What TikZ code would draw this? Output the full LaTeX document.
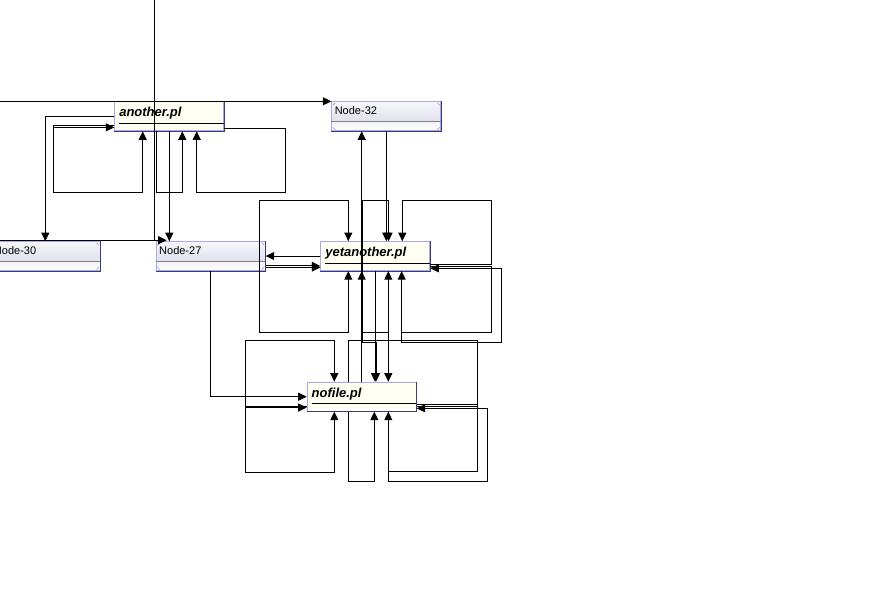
\documentclass[tikz,border=0pt]{standalone}
\usepackage{fontspec}
\setsansfont{Liberation Sans}
\usetikzlibrary{arrows.meta}
\definecolor{fileback}{HTML}{FEFEF2}
\definecolor{lightb}{HTML}{A8A8EC}
\definecolor{darkb}{HTML}{3C3C7C}
\definecolor{gtop}{HTML}{F6F6FA}
\definecolor{gmid}{HTML}{D6D6E8}
\definecolor{gbot}{HTML}{F2F2F8}
\tikzset{
  filenode/.style={rectangle, draw=lightb, fill=fileback, line width=1pt,
    minimum width=109pt, minimum height=29pt, anchor=north west,
    inner xsep=4.5pt, inner ysep=0pt, text width=100pt, align=left,
    text height=15pt, text depth=14pt,
    font=\sffamily\bfseries\itshape\fontsize{13pt}{15pt}\selectfont},
  gradnode/.style={rectangle, draw=lightb, line width=1pt,
    minimum width=109pt, minimum height=29pt, anchor=north west,
    inner xsep=3pt, inner ysep=0pt, text width=103pt, align=left,
    text height=13pt, text depth=16pt,
    font=\sffamily\fontsize{11pt}{13pt}\selectfont,
    path picture={
      \shade[top color=gtop, bottom color=gmid]
        (path picture bounding box.north west) rectangle
        ([yshift=-20.4pt]path picture bounding box.north east);
      \shade[top color=gbot, bottom color=white]
        ([yshift=-20.4pt]path picture bounding box.north west) rectangle
        (path picture bounding box.south east);
    }},
  conn/.style={draw=black, line width=1pt},
  arr/.style={conn, -{Triangle[length=8.5pt,width=8pt]}},
  arrb/.style={conn, {Triangle[length=8.5pt,width=8pt]}-{Triangle[length=8.5pt,width=8pt]}},
}
\newcommand\filedeco[1]{%
  \draw[black, line width=1pt] ([xshift=5pt,yshift=-22pt]#1.north west) -- ([yshift=-22pt]#1.north east);
  \draw[darkb, line width=1pt] (#1.south west) -- (#1.south east) -- (#1.north east);}
\newcommand\graddeco[1]{%
  \draw[gray, line width=1pt] ([yshift=-20.4pt]#1.north west) -- ([yshift=-20.4pt]#1.north east);
  \draw[darkb, line width=1pt] (#1.south west) -- (#1.south east) -- (#1.north east);
  \draw[gray!70, line width=0.6pt]
    ([xshift=1.5pt,yshift=-4pt]#1.north west) -- ([xshift=4pt,yshift=-1.5pt]#1.north west)
    ([xshift=-1.5pt,yshift=-4pt]#1.north east) -- ([xshift=-4pt,yshift=-1.5pt]#1.north east)
    ([xshift=1.5pt,yshift=4pt]#1.south west) -- ([xshift=4pt,yshift=1.5pt]#1.south west)
    ([xshift=-1.5pt,yshift=4pt]#1.south east) -- ([xshift=-4pt,yshift=1.5pt]#1.south east);}
\begin{document}
\begin{tikzpicture}[x=1pt, y=-1pt]
\useasboundingbox (0,0) rectangle (886,598);
\fill[white] (0,0) rectangle (886,598);
\clip (0,0) rectangle (886,598);

% nodes
\node[filenode] (another) at (114.3,101.3) {another.pl};
\node[gradnode] (n32) at (331.3,101.3) {Node-32};
\node[gradnode] (n30) at (-9.5,241.2) {Node-30};
\node[gradnode] (n27) at (155.7,241.2) {Node-27};
\node[filenode] (yet) at (320.3,241.2) {yetanother.pl};
\node[filenode] (nof) at (306.7,381.7) {nofile.pl};
\filedeco{another}
\filedeco{yet}
\filedeco{nof}
\graddeco{n32}
\graddeco{n30}
\graddeco{n27}

% connectors at the top
\draw[arr] (0,0 |- n32.north west) -- (n32.north west);
\draw[conn] (0,240) -- (154.3,240);
\draw[arr] (154.3,0) |- ([xshift=11pt,yshift=1pt]n27.north west);

% another.pl
\draw[arr] (another.west) -| (n30.north -| 45.3,0);
\draw[arr] (another.west |- 0,125.3) -- (53.3,125.3) -- (53.3,192) -| (another.south -| 142.7,0);
\draw[arr] (53.3,127.3) -- (another.west |- 0,127.3);
\draw[arr] (another.south -| 156.7,0) -- (156.7,192) -| (another.south -| 182.3,0);
\draw[arr] (another.south -| 169.3,0) -- (n27.north -| 169.3,0);
\draw[arr] (another.east |- 0,128.3) -- (285.3,128.3) -- (285.3,192) -| (another.south -| 196.7,0);

% Node-27
\draw[arr] (n27.south -| 210,0) |- (nof.west |- 0,396.7);
\draw[arr] (yet.west |- 0,256) -- (n27.east |- 0,256);
\draw[arr] (n27.east |- 0,265.9) -- (yet.west |- 0,265.9);
\draw[arr] (n27.east |- 0,267.5) -- (yet.west |- 0,267.5);

% Node-32
\draw[arr] (n32.south -| 386.3,0) -- (yet.north -| 386.3,0);
\draw[arr] (nof.north -| 361.7,0) -- (n32.south -| 361.7,0);

% yetanother.pl
\draw[arrb] (yet.south -| 348.3,0) -- (348.3,332.2) -- (259.3,332.2) -- (259.3,200.3) -| (yet.north -| 348.3,0);
\draw[arrb] (nof.north -| 376,0) -- (376,342.3) -- (362.9,342.3) -- (362.9,200.3) -| (yet.north -| 388.5,0);
\draw[arr] (yet.south -| 375,0) -- (nof.north -| 375,0);
\draw[arr] (nof.north -| 361.7,0) -- (yet.south -| 361.7,0);
\draw[arr] (nof.north -| 361.7,0) -- (361.7,332.7) -| (yet.south -| 388.3,0);
\draw[arr] (yet.south -| 388.3,0) -- (nof.north -| 388.3,0);
\draw[arr] (yet.east |- 0,264.6) -- (491.7,264.6) -- (491.7,200.3) -| (yet.north -| 402.3,0);
\draw[arr] (yet.east |- 0,266.1) -- (491.7,266.1) -- (491.7,332.7) -| (yet.south -| 401.7,0);
\draw[arr] (yet.south -| 401.7,0) -- (401.7,342.5) -| (501.7,268.3) -- (yet.east |- 0,268.3);

% nofile.pl
\draw[arr] (nof.west |- 0,406) -- (245.7,406) -- (245.7,340.3) -| (nof.north -| 334.3,0);
\draw[arr] (245.7,406) -- (245.7,472.3) -| (nof.south -| 334.3,0);
\draw[arr] (245.7,407.5) -- (nof.west |- 0,407.5);
\draw[arr] (nof.south -| 348.3,0) -- (348.3,481.7) -| (nof.south -| 374.3,0);
\draw[arr] (nof.north -| 348.3,0) -- (348.3,340.7) -- (477.3,340.7) -- (477.3,471.7) -| (nof.south -| 388.3,0);
\draw[conn] (nof.east |- 0,404.6) -- (477.3,404.6);
\draw[conn] (nof.east |- 0,406.1) -- (477.3,406.1);
\draw[arr] (nof.south -| 388.3,0) -- (388.3,481.7) -| (487.3,408.3) -- (nof.east |- 0,408.3);
\end{tikzpicture}
\end{document}
